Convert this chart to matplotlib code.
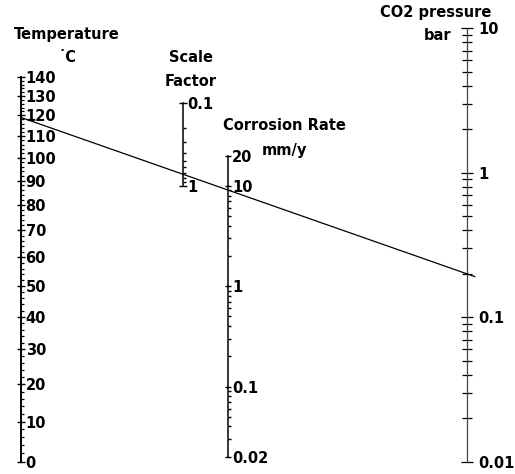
import numpy as np
import matplotlib
matplotlib.use("Agg")
import matplotlib.pyplot as plt
from matplotlib.lines import Line2D

# nomogram scales
temp_major = [0, 10, 20, 30, 40, 50, 60, 70, 80, 90, 100, 110, 120, 130, 140]
temp_minor = [t for t in range(0, 141, 2) if t % 10 != 0]
scale_major = [0.1, 1]
scale_labels = ["0.1", "1"]
scale_minor = [0.2, 0.3, 0.4, 0.5, 0.6, 0.7, 0.8, 0.9]
corr_major = [0.02, 0.1, 1, 10, 20]
corr_labels = ["0.02", "0.1", "1", "10", "20"]
corr_minor = [0.03, 0.04, 0.05, 0.06, 0.07, 0.08, 0.09,
              0.2, 0.3, 0.4, 0.5, 0.6, 0.7, 0.8, 0.9,
              2, 3, 4, 5, 6, 7, 8, 9]
co2_major = [0.01, 0.1, 1, 10]
co2_labels = ["0.01", "0.1", "1", "10"]
co2_minor = [m * d for d in [0.01, 0.1, 1] for m in range(2, 10)]

# example reading : T = 119 C, pCO2 = 0.2 bar
ex_temp = 119
ex_co2 = 0.2

W, H = 515, 474
fig = plt.figure(figsize=(W / 100, H / 100), dpi=100)
fs = 10.5
font = dict(family="DejaVu Sans", weight="bold", size=fs)


def echelle(x, top, bottom):
    """axe vertical (spine droite seulement) place en pixels"""
    w = 0.01
    ax = fig.add_axes([x / W - w, 1 - bottom / H, w, (bottom - top) / H])
    for s in ["top", "bottom", "left"]:
        ax.spines[s].set_visible(False)
    ax.patch.set_visible(False)
    ax.set_xticks([])
    ax.yaxis.tick_right()
    ax.spines["right"].set_linewidth(1.1)
    return ax


# Temperature (echelle en 1/T)
axT = echelle(21, 77.3, 461.7)
axT.set_yscale("function", functions=(lambda t: -1 / (t + 273.15),
                                      lambda v: -1 / v - 273.15))
axT.set_ylim(0, 140)
axT.set_yticks(temp_major)
axT.set_yticklabels([str(t) for t in temp_major], fontdict=font)
axT.set_yticks(temp_minor, minor=True)
axT.tick_params(which="major", direction="inout", length=6, width=1, pad=0.3)
axT.tick_params(which="minor", direction="out", length=2.2, width=0.9)
axT.spines["right"].set_linewidth(1.4)

# Scale factor
axS = echelle(182.7, 102.7, 185.7)
axS.set_yscale("log")
axS.set_ylim(1, 0.1)
axS.set_yticks(scale_major)
axS.set_yticklabels(scale_labels, fontdict=font)
axS.set_yticks(scale_minor, minor=True)
axS.yaxis.set_minor_formatter(plt.NullFormatter())
axS.tick_params(which="major", direction="inout", length=6, width=1, pad=0.5)
axS.tick_params(which="minor", direction="out", length=2.5, width=1)

# Corrosion rate
axC = echelle(228.3, 155.7, 456.7)
axC.set_yscale("log")
axC.set_ylim(0.02, 20)
axC.set_yticks(corr_major)
axC.set_yticklabels(corr_labels, fontdict=font)
axC.set_yticks(corr_minor, minor=True)
axC.yaxis.set_minor_formatter(plt.NullFormatter())
axC.tick_params(which="major", direction="inout", length=5, width=1, pad=0.3)
axC.tick_params(which="minor", direction="out", length=2.5, width=1)

# CO2 pressure
axP = echelle(466.7, 28.3, 461.7)
axP.set_yscale("log")
axP.set_ylim(0.01, 10)
axP.set_yticks(co2_major)
axP.set_yticklabels(co2_labels, fontdict=font)
axP.set_yticks(co2_minor, minor=True)
axP.yaxis.set_minor_formatter(plt.NullFormatter())
axP.tick_params(which="major", direction="inout", length=9, width=0.9, pad=4)
axP.tick_params(which="minor", direction="inout", length=7, width=0.9)
axP.spines["right"].set_linewidth(0.9)
axP.spines["right"].set_color("#444444")

# titres
fig.text(67 / W, 1 - 34 / H, "Temperature", ha="center", va="center", **font)
fig.text(67 / W, 1 - 57 / H, "˙C", ha="center", va="center", **font)
fig.text(191 / W, 1 - 57 / H, "Scale", ha="center", va="center", **font)
fig.text(191 / W, 1 - 81 / H, "Factor", ha="center", va="center", **font)
fig.text(284.5 / W, 1 - 126 / H, "Corrosion Rate", ha="center", va="center", **font)
fig.text(284.5 / W, 1 - 150 / H, "mm/y", ha="center", va="center", **font)
fig.text(436 / W, 1 - 12.7 / H, "CO2 pressure", ha="center", va="center", **font)
fig.text(437.5 / W, 1 - 35 / H, "bar", ha="center", va="center", **font)

# droite de lecture
p1 = axT.transData.transform((axT.get_xlim()[1], ex_temp))
p2 = axP.transData.transform((axP.get_xlim()[1], ex_co2))
p3 = p2 + 0.018 * (p2 - p1)
inv = fig.transFigure.inverted()
a = inv.transform(p1)
b = inv.transform(p3)
fig.add_artist(Line2D([a[0], b[0]], [a[1], b[1]], transform=fig.transFigure,
                      color="black", lw=0.9))

fig.savefig("out.png", dpi=100)
